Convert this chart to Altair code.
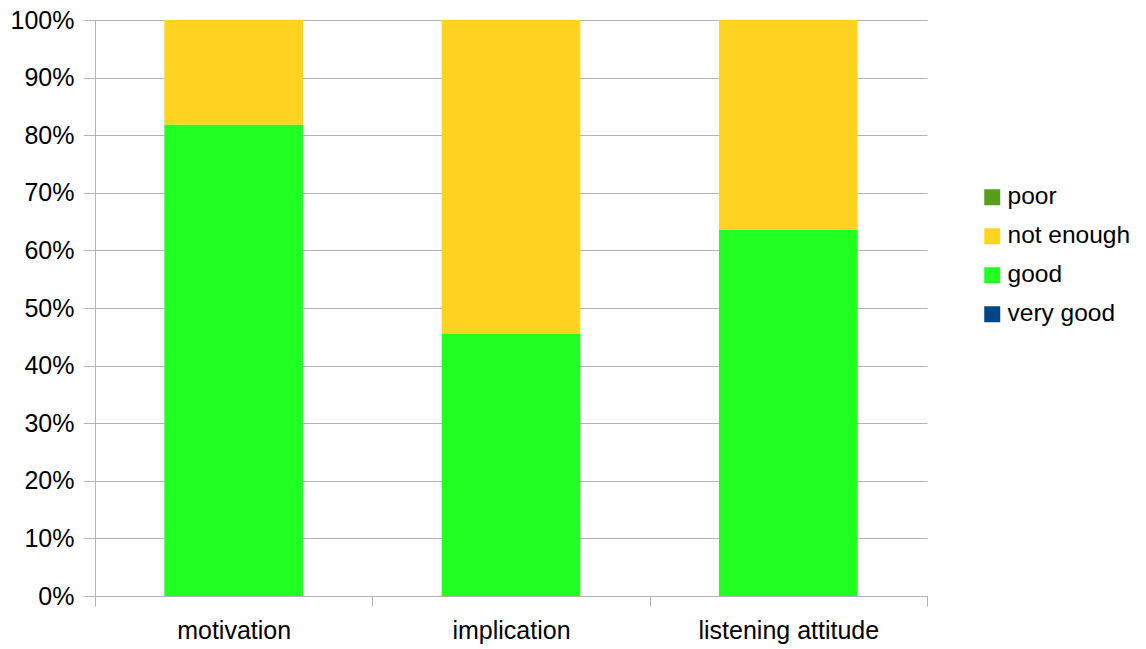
import altair as alt
import pandas as pd

categories = ["motivation", "implication", "listening attitude"]
series = ["poor", "not enough", "good", "very good"]
colors = ["#579D1C", "#FFD320", "#22FF22", "#004586"]
stack_rank = [3, 2, 1, 0]  # bottom of stack = lowest rank
poor = [0.0, 0.0, 0.0]
not_enough = [18.2, 54.5, 36.4]
good = [81.8, 45.5, 63.6]
very_good = [0.0, 0.0, 0.0]
y_ticks = [0, 0.1, 0.2, 0.3, 0.4, 0.5, 0.6, 0.7, 0.8, 0.9, 1.0]

values = {"poor": poor, "not enough": not_enough, "good": good, "very good": very_good}
rows = []
for s, rank in zip(series, stack_rank):
    for c, v in zip(categories, values[s]):
        rows.append({"category": c, "series": s, "value": v / 100.0, "rank": rank})
df = pd.DataFrame(rows)

FONT = "Liberation Sans"
GRAY = "#b3b3b3"

chart = alt.Chart(df).mark_bar(width={"band": 0.5}).encode(
    x=alt.X("category:N", sort=categories, title=None,
            scale=alt.Scale(paddingInner=0, paddingOuter=0),
            axis=alt.Axis(tickBand="extent", labelAngle=0, labelFontSize=25,
                          labelFont=FONT, labelColor="#000000", tickSize=10,
                          tickColor=GRAY, domainColor=GRAY, labelPadding=12,
                          labelLimit=0, grid=False)),
    y=alt.Y("value:Q", stack="zero", title=None,
            scale=alt.Scale(domain=[0, 1], nice=False),
            axis=alt.Axis(values=y_ticks, format=".0%", labelFontSize=25,
                          labelFont=FONT, labelColor="#000000", tickSize=12,
                          tickColor=GRAY, domainColor=GRAY, gridColor=GRAY,
                          grid=True, labelPadding=9, labelLimit=0)),
    color=alt.Color("series:N", scale=alt.Scale(domain=series, range=colors),
                    legend=alt.Legend(title=None, orient="none", legendX=885,
                                      legendY=165, symbolType="square",
                                      symbolSize=256, symbolStrokeWidth=0,
                                      labelFontSize=24.5, labelFont=FONT,
                                      labelColor="#000000", rowPadding=14,
                                      labelOffset=3, labelLimit=0, padding=0)),
    order=alt.Order("rank:Q", sort="ascending"),
).properties(
    width=832, height=576,
    padding={"left": 87, "top": 12, "right": 211, "bottom": 52},
    autosize=alt.AutoSizeParams(type="none"),
).configure_view(stroke=None)

chart.save("out.html", embed_options={"renderer": "svg", "actions": False})
